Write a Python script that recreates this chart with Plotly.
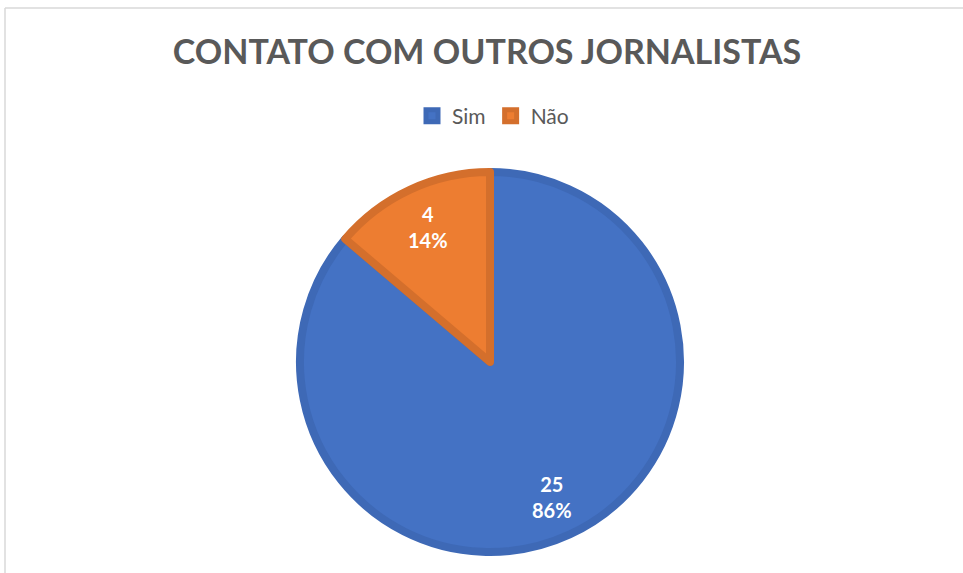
import math
import plotly.graph_objects as go

labels = ["Sim", "Não"]
values = [25, 4]
fill_colors = ["#4472C4", "#ED7D31"]
line_colors = ["#3E69B6", "#D46F2C"]

W, H = 963, 573
cx, cy, r = 490, 362, 190
FONT = "Lato, Open Sans, sans-serif"

fig = go.Figure(go.Pie(
    labels=labels,
    values=values,
    sort=False,
    direction="clockwise",
    rotation=0,
    marker=dict(colors=fill_colors, line=dict(color=line_colors, width=8)),
    textinfo="none",
    hoverinfo="skip",
    domain=dict(x=[(cx - r) / W, (cx + r) / W], y=[1 - (cy + r) / H, 1 - (cy - r) / H]),
))

# data labels placed at the middle angle of each slice (clockwise from 12 o'clock)
total = sum(values)
annotations = []
cum = 0
for lab, v in zip(labels, values):
    mid = (cum + v / 2) / total * 2 * math.pi
    cum += v
    R = 0.78 * r
    sx = cx + R * math.sin(mid)
    sy = cy - R * math.cos(mid)
    annotations.append(dict(
        x=sx / W, y=1 - sy / H, xref="paper", yref="paper", showarrow=False,
        text=f"<b>{v}</b><br><b>{round(100 * v / total)}%</b>",
        font=dict(family=FONT, size=20, color="white"), align="center",
        xanchor="center", yanchor="middle",
    ))

fig.update_layout(
    width=W, height=H,
    margin=dict(l=0, r=0, t=0, b=0),
    paper_bgcolor="white",
    title=dict(text="<b>CONTATO COM OUTROS JORNALISTAS</b>", x=487 / W, xanchor="center",
               y=1 - 52 / H, yanchor="middle",
               font=dict(family=FONT, size=34, color="#595959")),
    legend=dict(orientation="h", x=493 / W, xanchor="center", y=1 - 116 / H, yanchor="middle",
                font=dict(family=FONT, size=21, color="#595959"),
                itemwidth=30, traceorder="normal"),
    annotations=annotations,
    shapes=[
        dict(type="line", xref="paper", yref="paper", x0=5 / W, x1=1, y0=1 - 8 / H, y1=1 - 8 / H,
             line=dict(color="#D9D9D9", width=1.5)),
        dict(type="line", xref="paper", yref="paper", x0=5 / W, x1=5 / W, y0=0, y1=1 - 8 / H,
             line=dict(color="#D9D9D9", width=1.5)),
    ],
)

fig.write_html("out.html", config={"displayModeBar": False},
               post_script="document.body.style.margin='0';document.body.style.overflow='hidden';")
